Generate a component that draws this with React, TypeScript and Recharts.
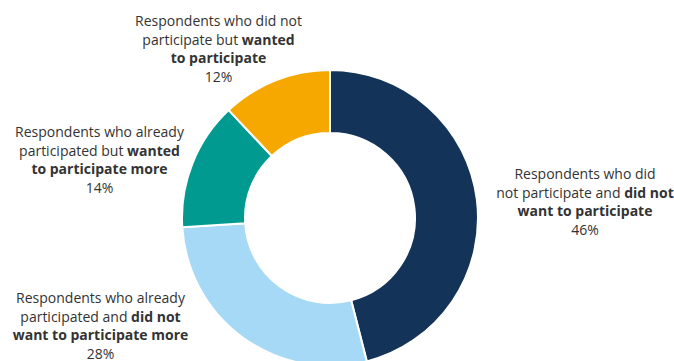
import React from "react";
import { PieChart, Pie, Cell } from "recharts";

const categories = [
  "did not participate and did not want to participate",
  "already participated and did not want to participate more",
  "already participated but wanted to participate more",
  "did not participate but wanted to participate",
];
const values = [46, 28, 14, 12];
const colors = ["#133458", "#A5D9F6", "#009A90", "#F6A800"];

// label lines: [text, bold] segments per line
const labelLines: Array<Array<Array<[string, boolean]>>> = [
  [
    [["Respondents who did", false]],
    [["not participate and ", false], ["did not", true]],
    [["want to participate", true]],
    [["46%", false]],
  ],
  [
    [["Respondents who already", false]],
    [["participated and ", false], ["did not", true]],
    [["want to participate more", true]],
    [["28%", false]],
  ],
  [
    [["Respondents who already", false]],
    [["participated but ", false], ["wanted", true]],
    [["to participate more", true]],
    [["14%", false]],
  ],
  [
    [["Respondents who did not", false]],
    [["participate but ", false], ["wanted", true]],
    [["to participate", true]],
    [["12%", false]],
  ],
];

const labelPos = [
  { x: 585, y: 179 },
  { x: 100.5, y: 303 },
  { x: 99.5, y: 137 },
  { x: 218.5, y: 26 },
];
const LINE_H = 18.7;

const data = categories.map((c, i) => ({ name: c, value: values[i] }));

const renderLabel = (props: any) => {
  const i = props.index;
  const pos = labelPos[i];
  return (
    <text
      key={i}
      x={pos.x}
      y={pos.y}
      textAnchor="middle"
      fill="#333333"
      fontSize={14}
      fontFamily="'Open Sans', sans-serif"
    >
      {labelLines[i].map((line, li) => (
        <tspan key={li} x={pos.x} y={pos.y + li * LINE_H}>
          {line.map(([t, b], si) => (
            <tspan key={si} fontWeight={b ? 700 : 400}>
              {t}
            </tspan>
          ))}
        </tspan>
      ))}
    </text>
  );
};

export default function App() {
  return (
    <div style={{ position: "absolute", left: 0, top: 0, background: "#fff" }}>
      <PieChart width={674} height={361} margin={{ top: 0, right: 0, bottom: 0, left: 0 }}>
        <Pie
          data={data}
          dataKey="value"
          nameKey="name"
          cx={330}
          cy={218}
          innerRadius={85}
          outerRadius={148}
          startAngle={90}
          endAngle={-270}
          stroke="#ffffff"
          strokeWidth={2}
          label={renderLabel}
          labelLine={false}
          isAnimationActive={false}
        >
          {data.map((d, i) => (
            <Cell key={d.name} fill={colors[i]} />
          ))}
        </Pie>
      </PieChart>
    </div>
  );
}
